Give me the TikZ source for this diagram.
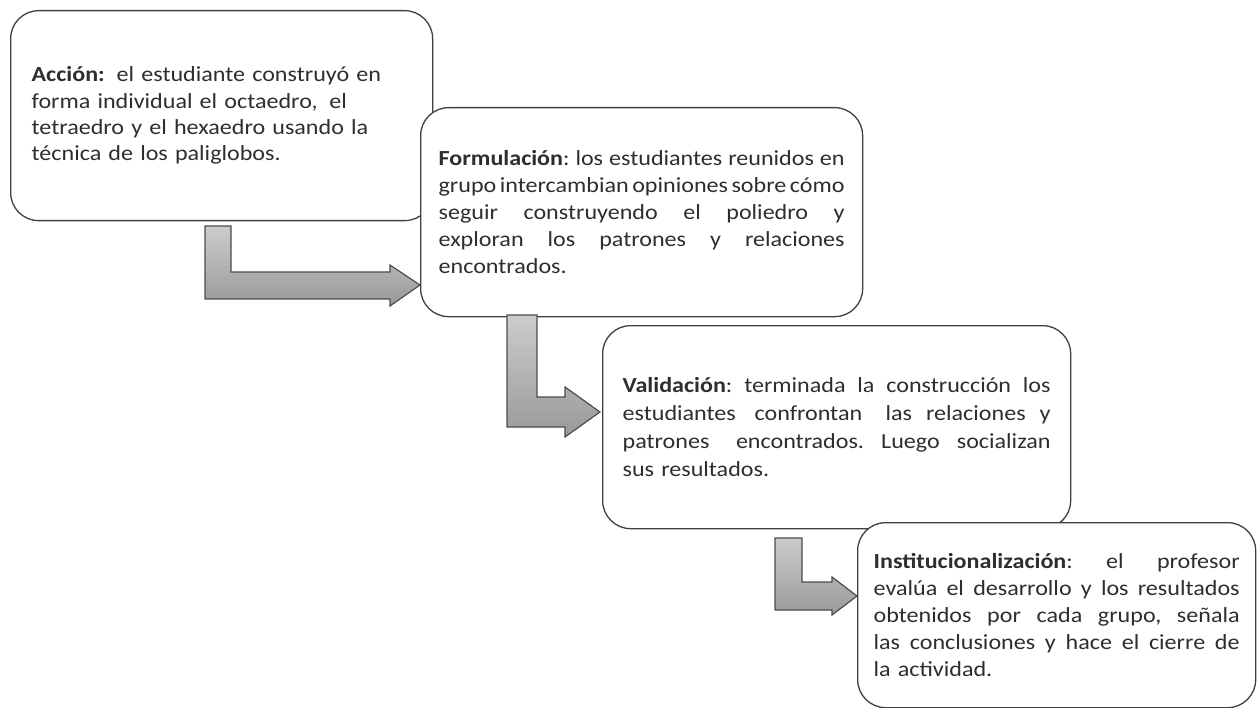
\documentclass[tikz,border=0pt]{standalone}
\usepackage{fontspec}
\setmainfont{Carlito}[FakeStretch=1.12]
\newcommand\jl[2]{{\spaceskip=0.22em plus 3em minus 0.12em\makebox[#1][s]{#2}}\\}
\newcommand\xs{\hspace{0.22em}}
\begin{document}
\begin{tikzpicture}[x=1pt,y=-1pt,
  box/.style={draw=black!75, line width=1.3pt, rounded corners=28pt, fill=white,
    anchor=north west, inner ysep=0pt, font=\fontsize{21.5}{27}\selectfont\frenchspacing,
    text=black!82, align=left},
  barrow/.style={draw=black!70, line width=1.2pt, top color=black!20,
    bottom color=black!40, line join=miter}]
\useasboundingbox[fill=white] (0,0) rectangle (1257,708);
% box 1
\node[box, font=\fontsize{21.5}{26.3}\selectfont\frenchspacing, minimum width=422pt, minimum height=210pt, text width=380pt, inner xsep=21pt] (b1) at (10,10)
{\textbf{Acción:}\xs{} el estudiante construyó en\\
forma individual el octaedro,\xs{} el\\
tetraedro y el hexaedro usando la\\
técnica de los paliglobos.};
% arrow 1
\coordinate (t1) at (420,285);
\draw[barrow] (205,226) -- (231,226) -- (231,272) -- (390,272) -- (390,265) -- (t1) -- (390,306) -- (390,299) -- (205,299) -- cycle;
% box 2
\node[box, minimum width=442pt, minimum height=209pt, text width=406pt, inner xsep=18pt] (b2) at (420,107)
{\jl{406pt}{\textbf{Formulación}: los estudiantes reunidos en}
\jl{406pt}{grupo intercambian opiniones sobre cómo}
\jl{406pt}{seguir construyendo el poliedro y}
\jl{406pt}{exploran los patrones y relaciones}
encontrados.};
% arrow 2
\coordinate (t2) at (600,412);
\draw[barrow] (507,315) -- (537,315) -- (537,397) -- (565,397) -- (565,387) -- (t2) -- (565,437) -- (565,427) -- (507,427) -- cycle;
% box 3
\node[box, font=\fontsize{21.5}{28}\selectfont\frenchspacing, minimum width=468pt, minimum height=203pt, text width=428pt, inner xsep=20pt] (b3) at (602,325)
{\jl{428pt}{\textbf{Validación}: terminada la construcción los}
\jl{428pt}{estudiantes\xs{} confrontan\xs\xs{} las relaciones y}
\jl{428pt}{patrones\xs\xs{} encontrados. Luego socializan}
sus resultados.};
% arrow 3
\coordinate (t3) at (857,596);
\draw[barrow] (775,538) -- (802,538) -- (802,582) -- (832,582) -- (832,577) -- (t3) -- (832,615) -- (832,610) -- (775,610) -- cycle;
% box 4
\node[box, minimum width=398pt, minimum height=185pt, text width=366pt, inner xsep=16pt] (b4) at (857,522)
{\jl{366pt}{\textbf{Institucionalización}: el profesor}
\jl{366pt}{evalúa el desarrollo y los resultados}
\jl{366pt}{obtenidos por cada grupo, señala}
\jl{366pt}{las conclusiones y hace el cierre de}
la actividad.};
\end{tikzpicture}
\end{document}
